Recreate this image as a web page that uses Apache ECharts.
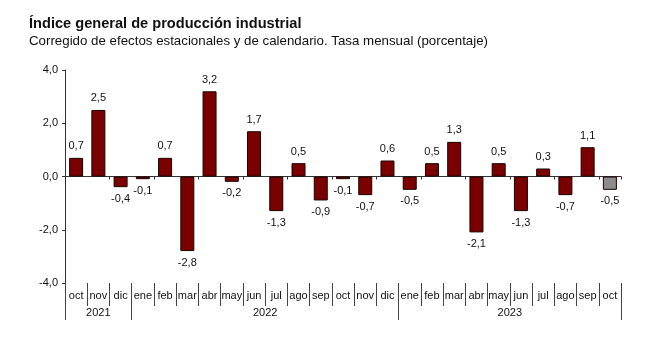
<!DOCTYPE html>
<html><head><meta charset="utf-8">
<script src="https://cdn.jsdelivr.net/npm/echarts@6/dist/echarts.min.js"></script>
<style>html,body{margin:0;padding:0;background:#fff}#c{width:669px;height:359px}</style>
</head><body><div id="c"></div>
<script>
const months = ['oct','nov','dic','ene','feb','mar','abr','may','jun','jul','ago','sep','oct','nov','dic','ene','feb','mar','abr','may','jun','jul','ago','sep','oct'];
const values = [0.7,2.5,-0.4,-0.1,0.7,-2.8,3.2,-0.2,1.7,-1.3,0.5,-0.9,-0.1,-0.7,0.6,-0.5,0.5,1.3,-2.1,0.5,-1.3,0.3,-0.7,1.1,-0.5];
const years = ['2021','2022','2023'];
const yearMonths = [3,12,10];
const yTicks = [-4,-2,0,2,4];
const provisionalIndex = 24;

const fmt = v => v.toFixed(1).replace('.', ',');
const FONT = 'Liberation Sans';

// half-month slots for year axis
const nSlots = months.length * 2 + 1;
const slotData = new Array(nSlots).fill('');
const sepSlots = new Set([0]);
const labelSlots = new Set();
let acc = 0;
years.forEach((y, i) => {
  const center = (acc + yearMonths[i] / 2) * 2;
  slotData[center] = y;
  labelSlots.add(center);
  acc += yearMonths[i];
  sepSlots.add(acc * 2);
});

const barData = values.map((v, i) => ({
  value: v,
  itemStyle: i === provisionalIndex ? { color: '#8c8c8c' } : undefined,
  label: { position: v < 0 ? 'bottom' : 'top' }
}));

const chart = echarts.init(document.getElementById('c'), null, { renderer: 'canvas' });
chart.setOption({
  animation: false,
  backgroundColor: '#fff',
  title: {
    text: 'Índice general de producción industrial',
    subtext: 'Corregido de efectos estacionales y de calendario. Tasa mensual (porcentaje)',
    left: 24, top: 11, itemGap: 4,
    textStyle: { fontFamily: FONT, fontSize: 14.6, fontWeight: 'bold', color: '#111' },
    subtextStyle: { fontFamily: FONT, fontSize: 13.3, color: '#111' }
  },
  grid: { left: 65, right: 48, top: 70, bottom: 76, containLabel: false },
  xAxis: [
    {
      type: 'category', data: months, position: 'bottom',
      axisLine: { onZero: true, lineStyle: { color: '#333', width: 1 } },
      axisTick: { show: true, length: 3, lineStyle: { color: '#333' } },
      axisLabel: { show: false }
    },
    {
      type: 'category', data: months, position: 'bottom',
      axisLine: { show: false, onZero: false },
      axisTick: { show: true, length: 23, lineStyle: { color: '#444' } },
      axisLabel: { show: true, interval: 0, margin: 7, fontFamily: FONT, fontSize: 11, color: '#111' }
    },
    {
      type: 'category', data: slotData, position: 'bottom', boundaryGap: false,
      axisLine: { show: false, onZero: false },
      axisTick: { show: true, length: 37, interval: (i) => sepSlots.has(i), lineStyle: { color: '#444' } },
      axisLabel: { show: true, interval: (i) => labelSlots.has(i), margin: 24, fontFamily: FONT, fontSize: 11, color: '#111' }
    }
  ],
  yAxis: {
    type: 'value', min: yTicks[0], max: yTicks[yTicks.length - 1], interval: 2,
    splitLine: { show: false },
    axisLine: { show: true, lineStyle: { color: '#333' } },
    axisTick: { show: true, length: 3, lineStyle: { color: '#333' } },
    axisLabel: { formatter: v => fmt(v), fontFamily: FONT, fontSize: 11, color: '#111', margin: 7 }
  },
  series: [{
    type: 'bar', xAxisIndex: 0, data: barData, barWidth: 14,
    itemStyle: { color: '#7a0000', borderColor: '#1a0000', borderWidth: 1 },
    label: { show: true, formatter: p => fmt(p.value), fontFamily: FONT, fontSize: 11, color: '#111', distance: 6 }
  }]
});
</script></body></html>
